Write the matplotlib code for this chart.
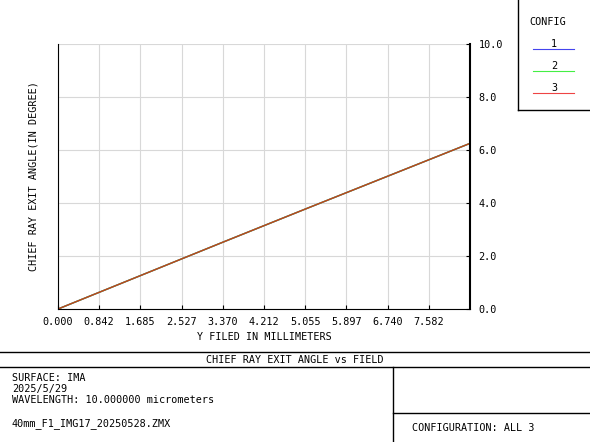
import matplotlib.pyplot as plt
import numpy as np

plt.rcParams['font.family'] = 'DejaVu Sans Mono'
FS = 7.3

# field (mm) vs chief ray exit angle (deg), three configs overlap
field = [0.0, 1.685, 3.370, 5.055, 6.740, 8.425]
angle_1 = [0.0, 1.26, 2.52, 3.77, 5.01, 6.25]
angle_2 = [0.0, 1.26, 2.52, 3.77, 5.01, 6.25]
angle_3 = [0.0, 1.26, 2.52, 3.77, 5.01, 6.25]
xticks = [0.000, 0.842, 1.685, 2.527, 3.370, 4.212, 5.055, 5.897, 6.740, 7.582]
yticks = [0.0, 2.0, 4.0, 6.0, 8.0, 10.0]
colors = ['#4444ee', '#44ee44', '#ee4444']

fig = plt.figure(figsize=(5.9, 4.42), dpi=100)
W, H = 590, 442
ax = fig.add_axes([58/W, 1-309/H, (470-58)/W, (309-44)/H])

ax.plot(field, angle_1, color=colors[0], lw=1)
ax.plot(field, angle_2, color=colors[1], lw=1)
ax.plot(field, angle_3, color='#c0401c', lw=1)

ax.set_xlim(0, 8.425)
ax.set_ylim(0, 10)
ax.set_xticks(xticks)
ax.set_xticklabels(['%.3f' % v for v in xticks], fontsize=FS)
ax.set_yticks(yticks)
ax.set_yticklabels(['%.1f' % v for v in yticks], fontsize=FS)
ax.yaxis.tick_right()
ax.tick_params(direction='in', length=3, pad=6)
ax.grid(color='#d8d8d8', lw=0.8)
ax.spines['top'].set_visible(False)
ax.spines['right'].set_linewidth(1.5)
ax.set_xlabel('Y FILED IN MILLIMETERS', fontsize=FS, labelpad=3)
ax.set_ylabel('CHIEF RAY EXIT ANGLE(IN DEGREE)', fontsize=FS, labelpad=14)

def line(x0, y0, x1, y1, c='black', lw=1):
    fig.add_artist(plt.Line2D([x0/W, x1/W], [1-y0/H, 1-y1/H], color=c, lw=lw))

def text(x, y, s, ha='left'):
    fig.text(x/W, 1-y/H, s, fontsize=FS, ha=ha, va='center')

# legend box
line(518, 0, 518, 110)
line(518, 110, 590, 110)
text(548, 22, 'CONFIG', ha='center')
for i, c in enumerate(colors):
    text(554, 44+22*i, str(i+1), ha='center')
    line(533, 49+22*i, 574, 49+22*i, c=c, lw=0.8)

# bottom info box
line(0, 352, 590, 352)
line(0, 367, 590, 367)
line(393, 367, 393, 442)
line(393, 413, 590, 413)
text(295, 360, 'CHIEF RAY EXIT ANGLE vs FIELD', ha='center')
text(12, 378, 'SURFACE: IMA')
text(12, 389, '2025/5/29')
text(12, 400, 'WAVELENGTH: 10.000000 micrometers')
text(12, 424, '40mm_F1_IMG17_20250528.ZMX')
text(412, 428, 'CONFIGURATION: ALL 3')

fig.savefig('out.png', dpi=100)
